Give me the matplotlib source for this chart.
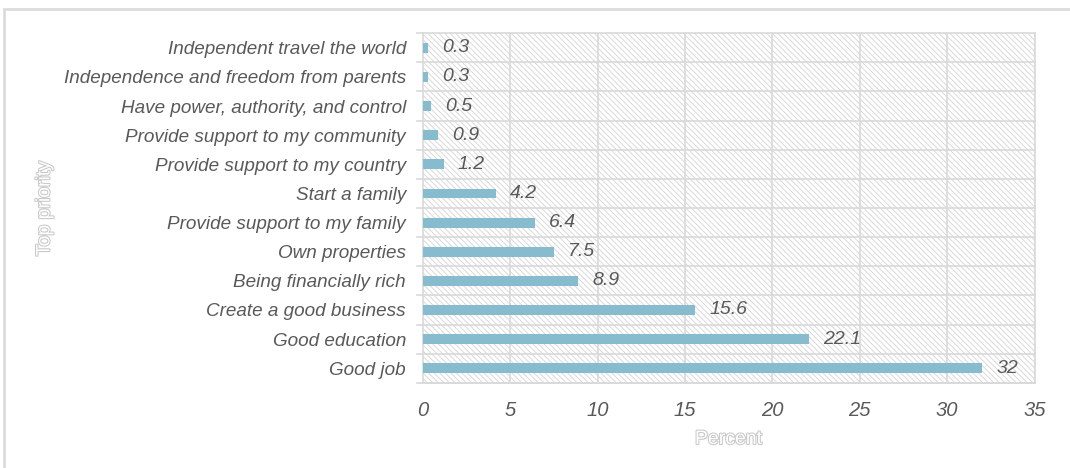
import matplotlib.pyplot as plt
import matplotlib.patheffects as pe
from matplotlib.patches import Rectangle
import numpy as np

plt.rcParams['font.family'] = ['Liberation Sans', 'DejaVu Sans']
plt.rcParams['hatch.color'] = '#dedede'
plt.rcParams['hatch.linewidth'] = 0.7

priorities = [
    'Good job',
    'Good education',
    'Create a good business',
    'Being financially rich',
    'Own properties',
    'Provide support to my family',
    'Start a family',
    'Provide support to my country',
    'Provide support to my community',
    'Have power, authority, and control',
    'Independence and freedom from parents',
    'Independent travel the world',
]
percent = [32, 22.1, 15.6, 8.9, 7.5, 6.4, 4.2, 1.2, 0.9, 0.5, 0.3, 0.3]

bar_color = '#86bccd'
text_color = '#595959'
grid_color = '#d9d9d9'

fig = plt.figure(figsize=(10.70, 4.68), dpi=100)
ax = fig.add_axes([0.395, 0.182, 0.572, 0.747])

# outer frame of the chart area
fig.patches.append(Rectangle((0.004, -0.02), 1.1, 1.0, transform=fig.transFigure,
                             fill=False, edgecolor='#dcdcdc', linewidth=2.0))

y = np.arange(len(priorities))
ax.set_xlim(0, 35)
ax.set_ylim(-0.5, len(priorities) - 0.5)

# hatched plot background
ax.add_patch(Rectangle((0, -0.5), 35, len(priorities), facecolor='white',
                       edgecolor=grid_color, hatch='\\' * 6, linewidth=0, zorder=0))

bars = ax.barh(y, percent, height=0.34, color=bar_color, zorder=3)
for yi, v in zip(y, percent):
    ax.text(v + 0.8, yi, f'{v:g}', va='center', ha='left', fontsize=14,
            style='italic', color=text_color, zorder=4)

ax.set_xticks(np.arange(0, 36, 5))
ax.set_xticklabels([str(t) for t in range(0, 36, 5)], fontsize=14.5,
                   style='italic', color=text_color)
ax.set_yticks(y)
ax.set_yticklabels(priorities, fontsize=13.6, style='italic', color=text_color)
ax.tick_params(axis='x', length=0, pad=13)
ax.tick_params(axis='y', length=0, pad=12)

# grid lines: vertical at ticks, horizontal between categories
for xv in range(5, 36, 5):
    ax.axvline(xv, color=grid_color, linewidth=1.2, zorder=1)
for b in np.arange(-0.5, len(priorities), 1.0):
    ax.plot([-0.35, 35], [b, b], color=grid_color, linewidth=1.2, zorder=1,
            clip_on=False)
for s in ax.spines.values():
    s.set_color(grid_color)
    s.set_linewidth(1.2)
ax.spines['top'].set_visible(False)

outline = [pe.withStroke(linewidth=1.5, foreground='#c8c8c8')]
ax.set_xlabel('Percent', fontsize=14, color='white',
              labelpad=8, path_effects=outline)
fig.text(0.042, 0.555, 'Top priority', rotation=90, ha='center', va='center',
         fontsize=14, color='white', path_effects=outline)

fig.savefig('out.png', dpi=100)
